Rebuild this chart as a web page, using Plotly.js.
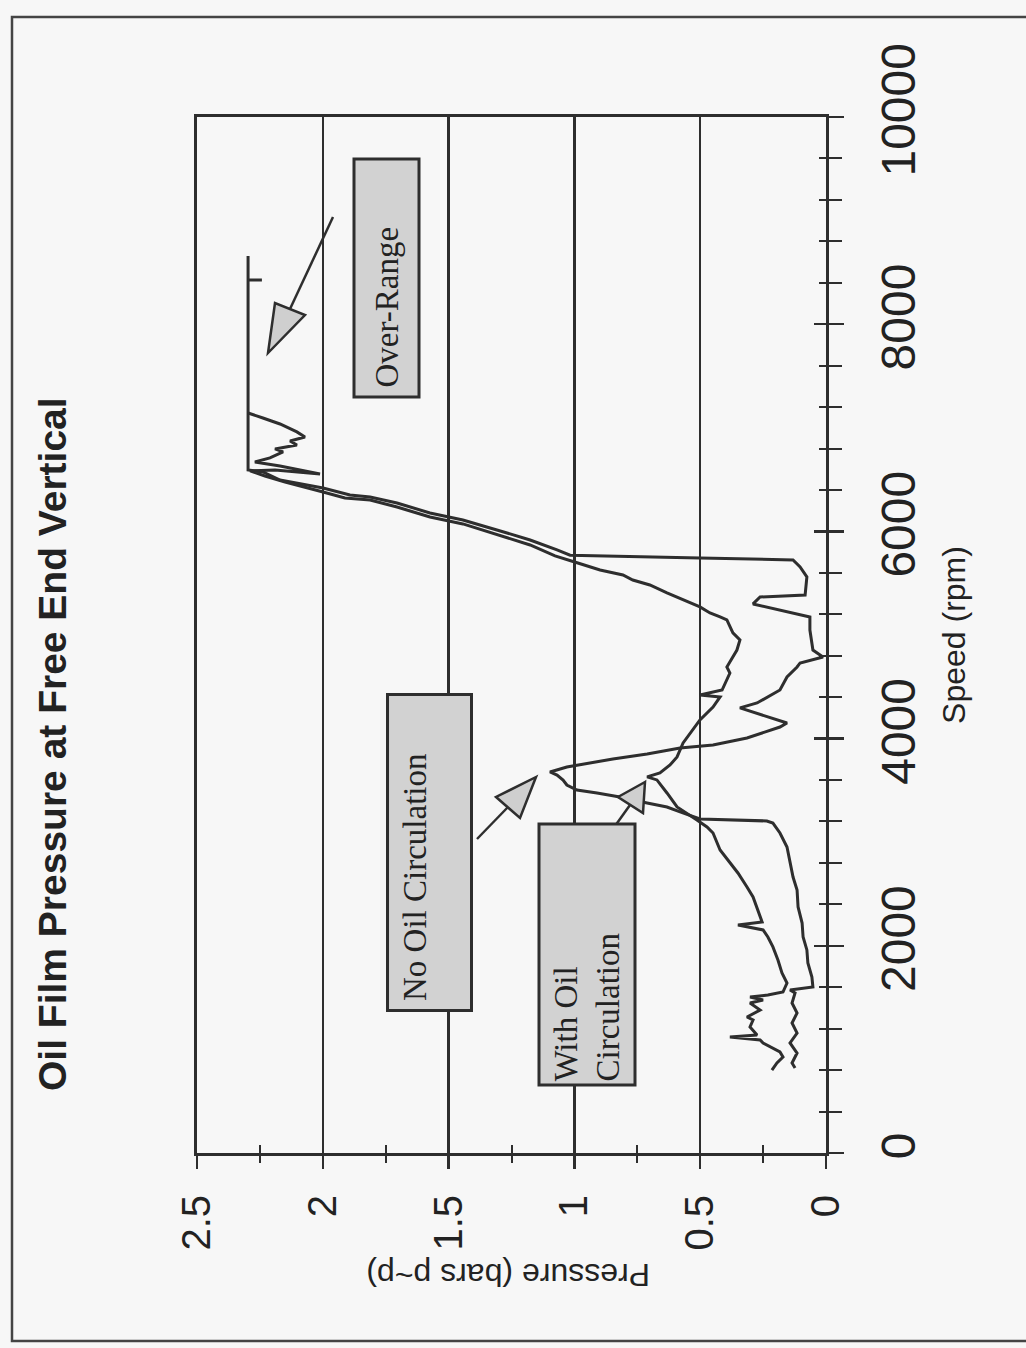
<!DOCTYPE html>
<html>
<head>
<meta charset="utf-8">
<script src="https://cdn.plot.ly/plotly-3.0.1.min.js"></script>
<style>
  html, body { margin: 0; padding: 0; background: #f7f7f7; }
  #chart { width: 1026px; height: 1348px; }
</style>
</head>
<body>
<div id="chart"></div>
<script>
// ---- Data (pressure in bars p~p, speed in rpm) ----
const noOilSpeed = [820, 869, 965, 1062, 1158, 1255, 1351, 1448, 1544, 1573, 1602, 1699, 1834, 1960, 2085, 2220, 2375, 2539, 2664, 2799, 2954, 3089, 3185, 3205, 3224, 3292, 3340, 3379, 3437, 3475, 3504, 3552, 3600, 3648, 3678, 3726, 3803, 3851, 3909, 3938, 4006, 4112, 4151, 4296, 4344, 4469, 4595, 4691, 4730, 4788, 4855, 5048, 5174, 5300, 5367, 5386, 5560, 5657, 5724, 5744, 5763, 5770, 5821, 5917, 6014, 6110, 6178, 6274, 6332, 6352, 6419, 6468, 6496, 6574, 6593, 8659, 8427, 8427];
const noOilPressure = [0.123, 0.135, 0.115, 0.143, 0.115, 0.135, 0.115, 0.135, 0.123, 0.143, 0.052, 0.056, 0.072, 0.076, 0.091, 0.095, 0.111, 0.115, 0.131, 0.143, 0.155, 0.183, 0.211, 0.235, 0.501, 0.580, 0.632, 0.711, 0.819, 0.910, 0.990, 1.030, 1.045, 1.069, 1.097, 1.030, 0.847, 0.711, 0.580, 0.449, 0.314, 0.183, 0.155, 0.342, 0.274, 0.183, 0.155, 0.115, 0.103, 0.012, 0.052, 0.064, 0.064, 0.290, 0.262, 0.083, 0.076, 0.103, 0.131, 0.501, 0.898, 1.017, 1.069, 1.176, 1.308, 1.443, 1.574, 1.705, 1.812, 1.892, 1.999, 2.103, 2.170, 2.238, 2.297, 2.297, 2.297, 2.242];

const withOilSpeed = [801, 869, 927, 975, 1062, 1091, 1120, 1139, 1216, 1284, 1313, 1380, 1448, 1477, 1506, 1525, 1554, 1641, 1738, 1863, 1989, 2085, 2153, 2201, 2230, 2346, 2471, 2568, 2703, 2828, 2925, 3089, 3147, 3214, 3282, 3340, 3475, 3601, 3630, 3668, 3745, 3823, 3958, 4083, 4180, 4305, 4402, 4421, 4469, 4633, 4691, 4855, 4952, 5020, 5145, 5174, 5213, 5271, 5338, 5406, 5483, 5531, 5579, 5628, 5705, 5763, 5869, 5966, 6072, 6139, 6236, 6303, 6323, 6381, 6438, 6477, 6535, 6584, 6593, 6555, 6632, 6670, 6709, 6767, 6796, 6834, 6873, 6911, 6960, 7037, 7095, 7143];
const withOilPressure = [0.215, 0.195, 0.171, 0.183, 0.250, 0.262, 0.382, 0.274, 0.302, 0.290, 0.314, 0.262, 0.302, 0.250, 0.302, 0.231, 0.171, 0.155, 0.175, 0.191, 0.211, 0.231, 0.250, 0.350, 0.254, 0.270, 0.290, 0.314, 0.350, 0.390, 0.421, 0.449, 0.473, 0.513, 0.553, 0.592, 0.632, 0.672, 0.711, 0.660, 0.620, 0.592, 0.568, 0.529, 0.501, 0.449, 0.421, 0.501, 0.413, 0.382, 0.394, 0.354, 0.342, 0.370, 0.394, 0.421, 0.461, 0.501, 0.568, 0.632, 0.700, 0.768, 0.807, 0.898, 0.999, 1.077, 1.176, 1.308, 1.443, 1.574, 1.705, 1.812, 1.912, 1.999, 2.091, 2.150, 2.230, 2.289, 2.190, 2.011, 2.170, 2.270, 2.210, 2.158, 2.190, 2.103, 2.130, 2.071, 2.103, 2.170, 2.238, 2.297];

const pressureRange = [2.5, 0];
const speedRange = [0, 10000];

const chartTitle = 'Oil Film Pressure at Free End Vertical';
const speedTitle = 'Speed (rpm)';
const pressureTitle = 'Pressure (bars p~p)';
const labelOverRange = 'Over-Range';
const labelNoOil = 'No Oil Circulation';
const labelWithOil = 'With Oil<br>Circulation';

// ---- Layout geometry ----
const W = 1026, H = 1348;
const M = { l: 197, r: 200, t: 117, b: 195 };
const PW = W - M.l - M.r, PH = H - M.t - M.b;
const PX = px => (px - M.l) / PW;      // page pixel -> paper x
const PY = py => (H - M.b - py) / PH;  // page pixel -> paper y

const ink = '#2e2e2e';
const txt = '#222222';

const traces = [
  { type: 'scatter', mode: 'lines', name: 'No Oil Circulation',
    x: noOilPressure, y: noOilSpeed, xaxis: 'x', yaxis: 'y',
    line: { color: ink, width: 3 }, showlegend: false, hoverinfo: 'skip' },
  { type: 'scatter', mode: 'lines', name: 'With Oil Circulation',
    x: withOilPressure, y: withOilSpeed, xaxis: 'x2', yaxis: 'y2',
    line: { color: ink, width: 3 }, showlegend: false, hoverinfo: 'skip' }
];

function tri(pts, fill) {
  const d = 'M ' + pts.map(p => PX(p[0]) + ' ' + PY(p[1])).join(' L ') + ' Z';
  return { type: 'path', xref: 'paper', yref: 'paper', path: d,
           fillcolor: fill, line: { color: ink, width: 2.5 }, layer: 'above' };
}
function seg(a, b) {
  return { type: 'line', xref: 'paper', yref: 'paper',
           x0: PX(a[0]), y0: PY(a[1]), x1: PX(b[0]), y1: PY(b[1]),
           line: { color: ink, width: 2.5 }, layer: 'above' };
}

const shapes = [
  // page frame of the scanned sheet
  { type: 'path', xref: 'paper', yref: 'paper',
    path: 'M ' + PX(1030) + ' ' + PY(17) + ' L ' + PX(12) + ' ' + PY(17) +
          ' L ' + PX(12) + ' ' + PY(1341) + ' L ' + PX(1030) + ' ' + PY(1341),
    line: { color: '#444', width: 2.5 } },
  // arrows
  seg([333, 217], [290, 309]),
  tri([[268, 353], [275, 303], [305, 315]], '#cfcfcf'),
  seg([477, 839], [508, 807]),
  tri([[536, 777], [496, 797], [520, 818]], '#cfcfcf'),
  seg([610, 833], [630, 805]),
  tri([[645, 782], [618, 797], [643, 813]], '#cfcfcf')
];

const boxFont = { family: 'Liberation Serif, Times New Roman, serif', size: 33, color: txt };
function box(text, x0, y0, x1, y1, pad, valign) {
  const bw = 3;
  return {
    text: text, xref: 'paper', yref: 'paper',
    x: PX((x0 + x1) / 2), y: PY((y0 + y1) / 2),
    xanchor: 'center', yanchor: 'middle', showarrow: false,
    textangle: -90, font: boxFont, align: 'left', valign: valign,
    bgcolor: '#d2d2d2', bordercolor: ink, borderwidth: bw, borderpad: pad,
    width: (y1 - y0) - 2 * (bw + pad), height: (x1 - x0) - 2 * (bw + pad)
  };
}

const annotations = [
  { text: chartTitle, xref: 'paper', yref: 'paper', x: PX(52), y: PY(744),
    xanchor: 'center', yanchor: 'middle', showarrow: false, textangle: -90,
    font: { family: 'Liberation Sans, Arial, sans-serif', size: 39, color: txt, weight: 700 } },
  { text: pressureTitle, xref: 'paper', yref: 'paper', x: PX(508), y: PY(1275),
    xanchor: 'center', yanchor: 'middle', showarrow: false, textangle: 180,
    font: { family: 'Liberation Sans, Arial, sans-serif', size: 32, color: txt } },
  box(labelOverRange, 352, 158, 420, 399, 8, 'middle'),
  box(labelNoOil, 386, 693, 473, 1012, 8, 'top'),
  box(labelWithOil, 537, 823, 636, 1087, 2, 'middle')
];

const layout = {
  width: W, height: H,
  margin: { l: M.l, r: M.r, t: M.t, b: M.b, pad: 0 },
  paper_bgcolor: '#f7f7f7', plot_bgcolor: '#f7f7f7',
  font: { family: 'Liberation Sans, Arial, sans-serif', color: txt },
  showlegend: false,
  xaxis: {
    range: pressureRange, tick0: 0, dtick: 0.5,
    ticks: 'outside', ticklen: 13, tickwidth: 2.5, tickcolor: ink,
    minor: { tick0: 0, dtick: 0.25, ticks: 'outside', ticklen: 7, tickwidth: 2, tickcolor: ink },
    tickangle: -90, tickfont: { size: 40, color: txt }, ticklabelstandoff: 10,
    showgrid: true, gridcolor: ink, gridwidth: 2.5,
    showline: true, linecolor: ink, linewidth: 3, mirror: true, zeroline: false
  },
  xaxis2: {
    overlaying: 'x', matches: 'x', anchor: 'y2', side: 'bottom', range: pressureRange,
    tick0: 0, dtick: 0.5, ticks: 'inside', ticklen: 6, tickwidth: 2.5, tickcolor: ink,
    minor: { tick0: 0, dtick: 0.25, ticks: 'inside', ticklen: 8, tickwidth: 2, tickcolor: ink },
    showticklabels: false, showgrid: false, showline: false, zeroline: false
  },
  yaxis: {
    range: speedRange, side: 'right', tick0: 0, dtick: 2000, tickformat: 'd',
    ticks: 'outside', ticklen: 15, tickwidth: 2.5, tickcolor: ink,
    minor: { tick0: 0, dtick: 400, ticks: 'outside', ticklen: 13, tickwidth: 2, tickcolor: ink },
    tickangle: -90, tickfont: { size: 48, color: txt }, ticklabelstandoff: 13,
    showgrid: false, showline: true, linecolor: ink, linewidth: 3, mirror: true, zeroline: false,
    title: { text: speedTitle, font: { size: 32, color: txt }, standoff: 20 }
  },
  yaxis2: {
    overlaying: 'y', matches: 'y', anchor: 'x2', side: 'right', range: speedRange,
    tick0: 0, dtick: 2000, ticks: 'inside', ticklen: 12, tickwidth: 2.5, tickcolor: ink,
    minor: { tick0: 0, dtick: 400, ticks: 'inside', ticklen: 7, tickwidth: 2, tickcolor: ink },
    showticklabels: false, showgrid: false, showline: false, zeroline: false
  },
  shapes: shapes,
  annotations: annotations
};

Plotly.newPlot('chart', traces, layout, { staticPlot: true, displayModeBar: false });
</script>
</body>
</html>
